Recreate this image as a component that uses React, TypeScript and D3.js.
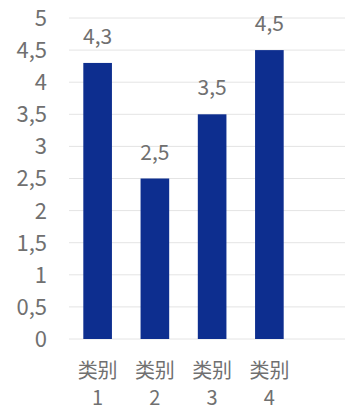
import React from "react";
import * as d3 from "d3";

const categories = ["类别 1", "类别 2", "类别 3", "类别 4"];
const values = [4.3, 2.5, 3.5, 4.5];
const yTicks = [0, 0.5, 1, 1.5, 2, 2.5, 3, 3.5, 4, 4.5, 5];

const W = 352;
const H = 412;
const FONT = "'Noto Sans CJK SC', 'Noto Sans', sans-serif";
const fmt = (v: number) => String(v).replace(".", ",");

export default function App() {
  const x = d3.scaleBand<string>().domain(categories).range([69, 298]).paddingInner(0.5).paddingOuter(0.25);
  const y = d3.scaleLinear().domain([0, 5]).range([339, 18]);
  return (
    <svg width={W} height={H} style={{ position: "absolute", left: 0, top: 0, background: "#fff" }}>
      {yTicks.map((t) => (
        <g key={t}>
          <line x1={69} x2={345} y1={y(t)} y2={y(t)} stroke="#e4e4e4" strokeWidth={1} />
          <text x={47} y={y(t)} dy="0.36em" textAnchor="end" fontSize={22} fill="#707070" fontFamily={FONT}>
            {fmt(t)}
          </text>
        </g>
      ))}
      {categories.map((c, i) => {
        const bx = x(c)!;
        const bw = x.bandwidth();
        const [l1, l2] = c.split(" ");
        return (
          <g key={c}>
            <rect x={bx} y={y(values[i])} width={bw} height={y(0) - y(values[i])} fill="#0d2e8f" />
            <text x={bx + bw / 2} y={y(values[i]) - 19} textAnchor="middle" fontSize={21} fill="#707070" fontFamily={FONT}>
              {fmt(values[i])}
            </text>
            <text x={bx + bw / 2} y={378} textAnchor="middle" fontSize={20} fill="#707070" fontFamily={FONT}>
              {l1}
            </text>
            <text x={bx + bw / 2} y={405} textAnchor="middle" fontSize={20} fill="#707070" fontFamily={FONT}>
              {l2}
            </text>
          </g>
        );
      })}
    </svg>
  );
}
